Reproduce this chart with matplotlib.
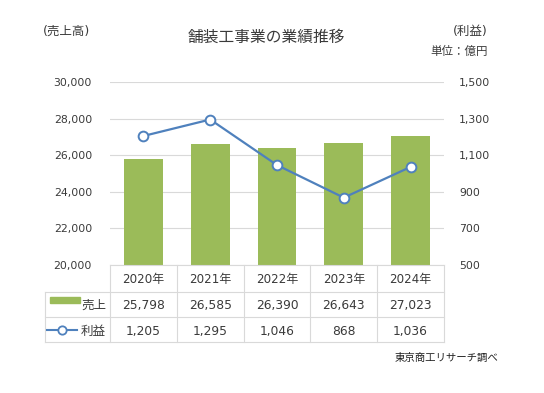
import matplotlib.pyplot as plt
from matplotlib.patches import Rectangle
from matplotlib.lines import Line2D

plt.rcParams['font.family'] = ['DejaVu Sans', 'Noto Sans CJK JP']

years = ['2020年', '2021年', '2022年', '2023年', '2024年']
sales = [25798, 26585, 26390, 26643, 27023]
profit = [1205, 1295, 1046, 868, 1036]

green = '#9bbb59'
blue = '#4f81bd'
grid_c = '#d9d9d9'
txt = '#3a3a3a'

W, H = 544, 393
fig = plt.figure(figsize=(W / 100, H / 100), dpi=100)

# pixel helpers (top-left origin)
def fx(px):
    return px / W

def fy(py):
    return 1 - py / H

left, right, top, bottom = 110, 444, 82, 265
ax = fig.add_axes([fx(left), fy(bottom), fx(right) - fx(left), fy(top) - fy(bottom)])
x = list(range(len(years)))
ax.bar(x, sales, width=0.58, color=green, zorder=2)
ax.set_xlim(-0.5, 4.5)
ax.set_ylim(20000, 30000)
ax.set_yticks(range(20000, 30001, 2000))
ax.set_yticklabels([f'{v:,}' for v in range(20000, 30001, 2000)])
ax.grid(axis='y', color=grid_c, linewidth=0.8, zorder=0)
ax.set_xticks([])
for s in ax.spines.values():
    s.set_visible(False)
ax.tick_params(axis='y', length=0, pad=13, labelsize=7.8, labelcolor=txt)

ax2 = ax.twinx()
ax2.plot(x, profit, color=blue, linewidth=1.6, marker='o', markersize=7,
         markerfacecolor='white', markeredgecolor=blue, markeredgewidth=1.4, zorder=3)
ax2.set_ylim(500, 1500)
ax2.set_yticks(range(500, 1501, 200))
ax2.set_yticklabels([f'{v:,}' for v in range(500, 1501, 200)])
for s in ax2.spines.values():
    s.set_visible(False)
ax2.tick_params(axis='y', length=0, pad=11, labelsize=7.8, labelcolor=txt)
ax2.set_xticks([])

# texts
fig.text(fx(266), fy(37), '舗装工事業の業績推移', ha='center', va='center', fontsize=11.3, color=txt)
fig.text(fx(43), fy(31), '(売上高)', ha='left', va='center', fontsize=9, color=txt)
fig.text(fx(488), fy(31), '(利益)', ha='right', va='center', fontsize=9, color=txt)
fig.text(fx(488), fy(51), '単位：億円', ha='right', va='center', fontsize=8.3, color=txt)
fig.text(fx(498), fy(358), '東京商工リサーチ調べ', ha='right', va='center', fontsize=7.5, color='#202020')

# data table
col_w = (right - left) / len(years)
rows = [265, 292, 317, 342]
lw = 0.8
for r in rows[1:]:
    fig.add_artist(Line2D([fx(45), fx(right)], [fy(r), fy(r)], color=grid_c, lw=lw))
fig.add_artist(Line2D([fx(left), fx(right)], [fy(265), fy(265)], color=grid_c, lw=lw))
fig.add_artist(Line2D([fx(45), fx(45)], [fy(292), fy(342)], color=grid_c, lw=lw))
for i in range(len(years) + 1):
    cx = left + i * col_w
    fig.add_artist(Line2D([fx(cx), fx(cx)], [fy(265), fy(342)], color=grid_c, lw=lw))

for i, y in enumerate(years):
    cx = left + (i + 0.5) * col_w
    fig.text(fx(cx), fy(283), y, ha='center', va='baseline', fontsize=8.6, color=txt)
    fig.text(fx(cx), fy(309), f'{sales[i]:,}', ha='center', va='baseline', fontsize=8.8, color=txt)
    fig.text(fx(cx), fy(335), f'{profit[i]:,}', ha='center', va='baseline', fontsize=8.8, color=txt)

# legend keys
fig.add_artist(Rectangle((fx(50), fy(303)), fx(80) - fx(50), fy(297) - fy(303), color=green))
fig.text(fx(81), fy(309), '売上', ha='left', va='baseline', fontsize=9, color=txt)
fig.add_artist(Line2D([fx(47), fx(77)], [fy(330), fy(330)], color=blue, lw=1.5))
fig.add_artist(Line2D([fx(62)], [fy(330)], color=blue, marker='o', markersize=6,
                      markerfacecolor='white', markeredgewidth=1.3))
fig.text(fx(81), fy(335), '利益', ha='left', va='baseline', fontsize=9, color=txt)

fig.savefig('out.png', dpi=100, facecolor='white')
